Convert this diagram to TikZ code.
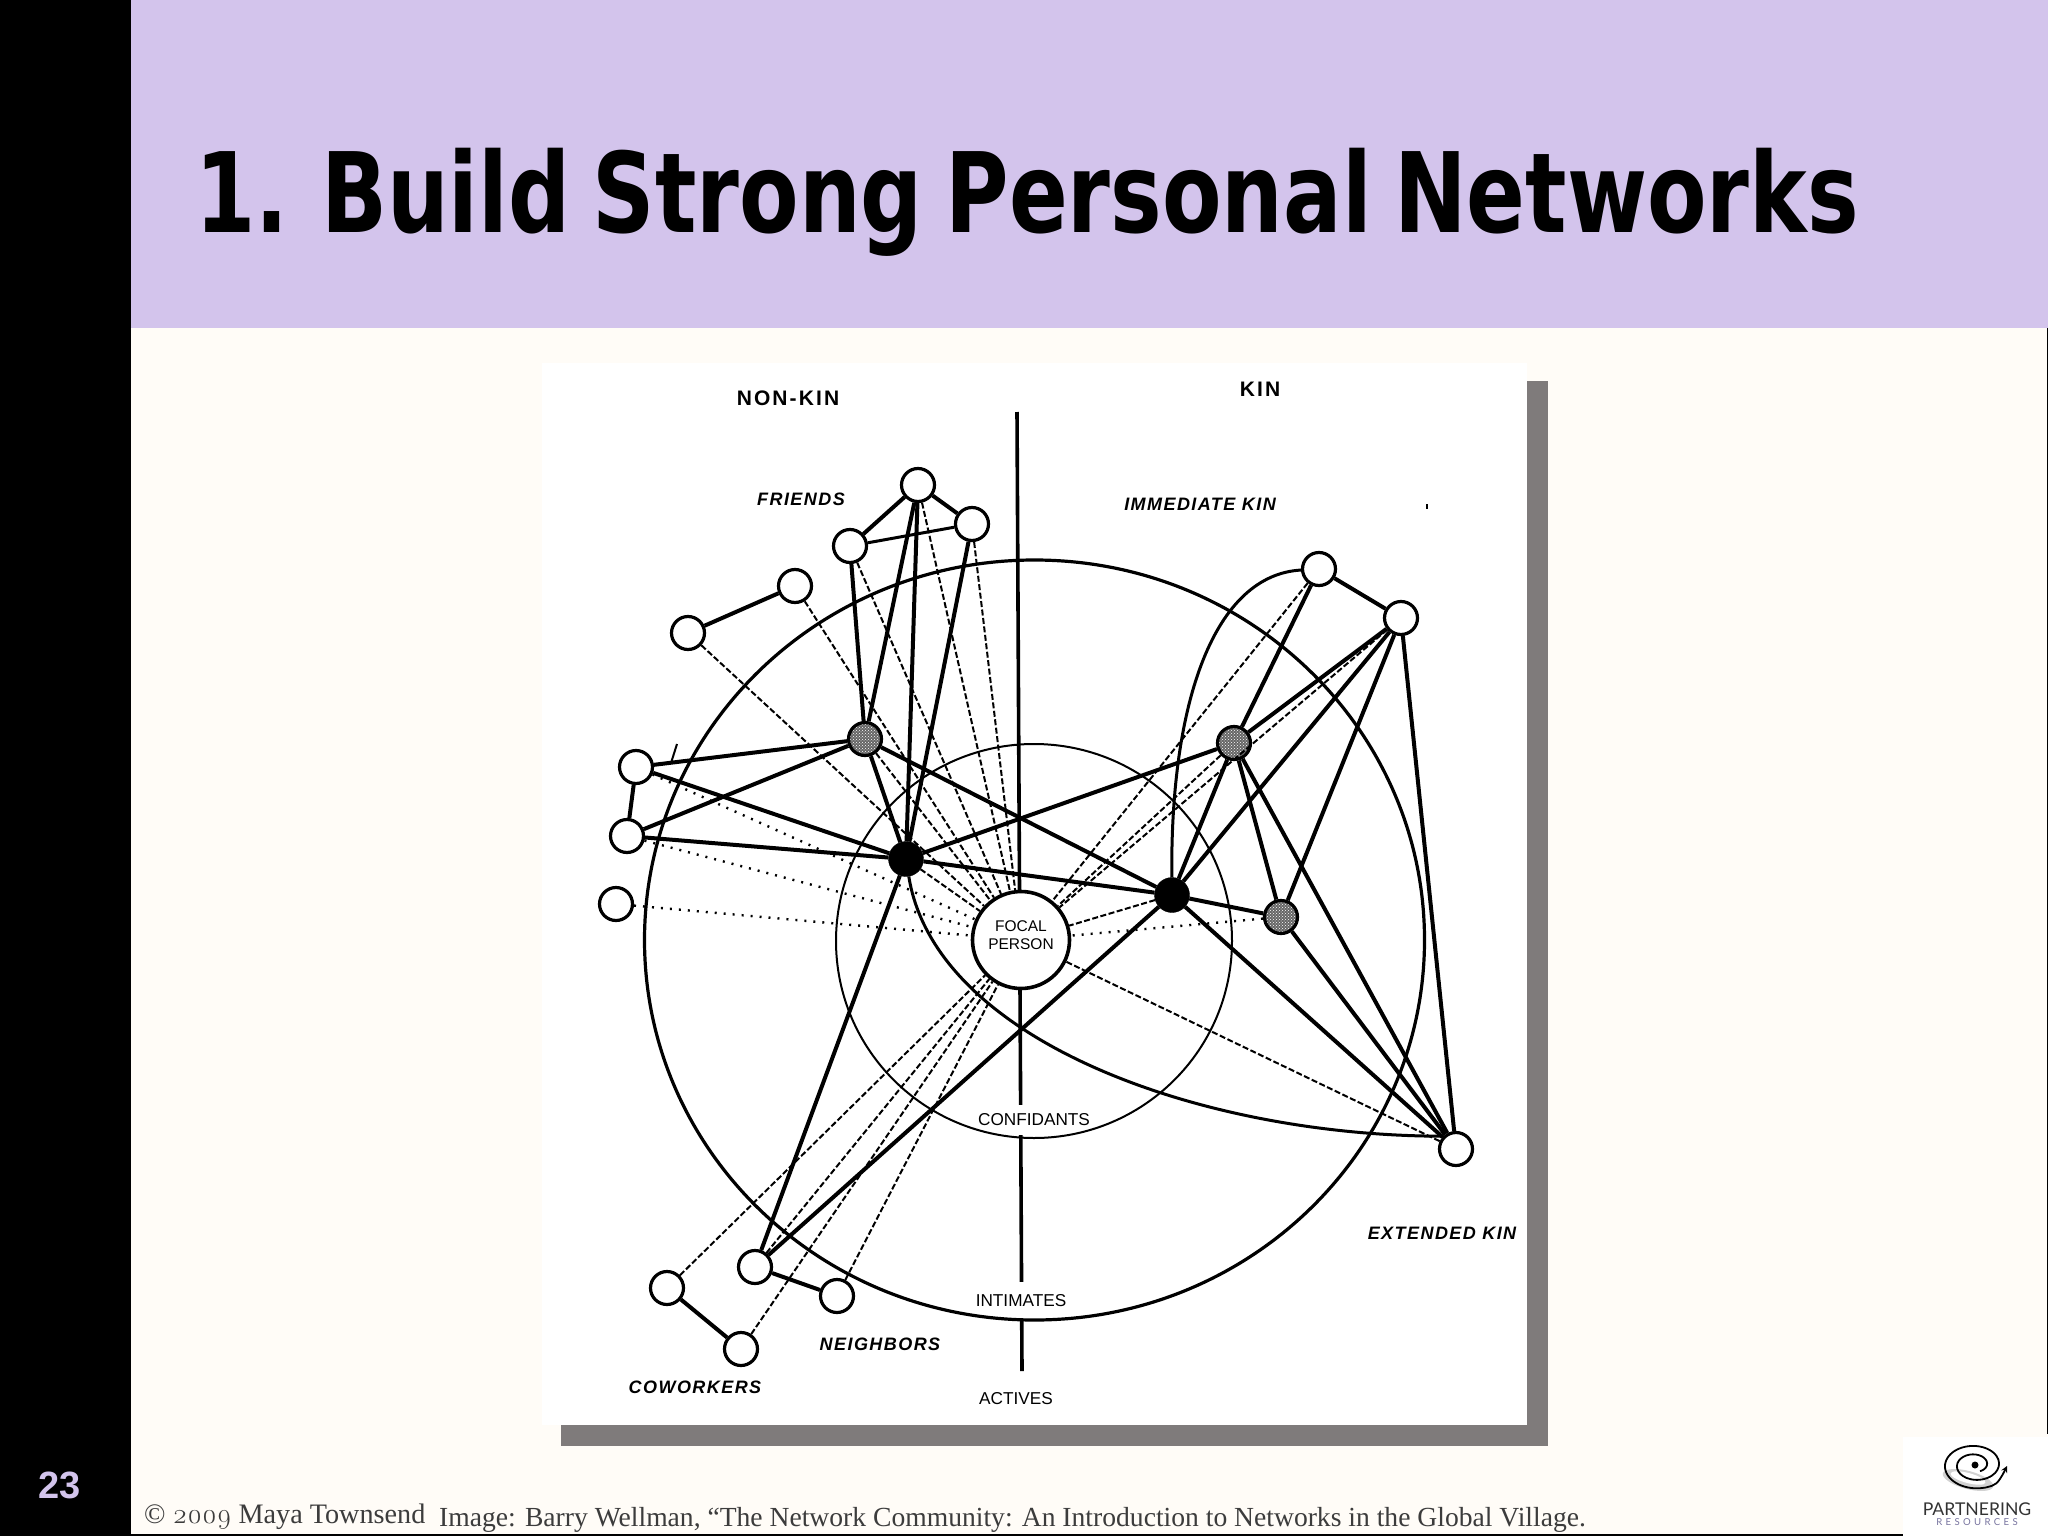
\documentclass[tikz,border=0pt]{standalone}
\usepackage{fontspec}
\usepackage{xcolor}
\usepackage{tikz}
\usetikzlibrary{shapes.geometric}
\usetikzlibrary{patterns}
\setmainfont{Liberation Serif}
\setsansfont{Liberation Sans}
\newfontfamily\titlefont[WordSpace=0.75]{DejaVu Sans Condensed}
\newfontfamily\oldnum[Numbers=OldStyle]{Latin Modern Roman}
\newfontfamily\logofont{Lato}
\definecolor{headbg}{HTML}{D3C4EC}
\definecolor{pagebg}{HTML}{FFFCF7}
\definecolor{shadow}{HTML}{7F7B7B}
\definecolor{footgray}{HTML}{3C3C3C}
\definecolor{logoblue}{HTML}{77739F}
\tikzset{
    mynode/.style = {circle, draw=black, line width=3.2pt, fill=white, inner sep=0pt, minimum size=33pt},
    mynodeh/.style = {circle, draw=black, line width=3.2pt, preaction={fill=black!60}, pattern=crosshatch dots, pattern color=white, inner sep=0pt, minimum size=33pt},
    mynodeb/.style = {circle, draw=black, fill=black, inner sep=0pt, minimum size=35pt},
    capt/.style = {font=\sffamily\bfseries\addfontfeature{LetterSpace=10}\fontsize{21}{21}\selectfont, inner sep=0pt},
    group/.style = {font=\sffamily\bfseries\itshape\addfontfeature{LetterSpace=8}\fontsize{18}{18}\selectfont, inner sep=0pt},
    ring/.style = {font=\sffamily\fontsize{17.2}{17.2}\selectfont, fill=white, inner xsep=1pt, inner ysep=0pt},
}
\begin{document}
\begin{tikzpicture}[x=1pt,y=-1pt]
\tikzset{
    edgen/.style = {-,line width=4pt},
    edgem/.style = {-,line width=3pt},
    edged/.style = {-,line width=2pt,dash pattern=on 6pt off 2.5pt},
    edgep/.style = {-,line width=2.4pt,dash pattern=on 2pt off 7pt},
}
\useasboundingbox (0,0) rectangle (2048,1536);
\fill[pagebg] (0,0) rectangle (2048,1536);
\fill[headbg] (131,0) rectangle (2048,328);
\fill[black] (0,0) rectangle (131,1536);
\fill[black] (131,1534) rectangle (1903,1536);
\fill[black] (2046.7,328) rectangle (2048,1434);
\fill[shadow] (561,381) rectangle (1548,1446);
\fill[white] (542,363) rectangle (1527,1425);
%
\node[anchor=base west,inner sep=0pt,font=\titlefont\bfseries\fontsize{111}{111}\selectfont] at (195,232) (title) {\scalebox{0.868}[1]{1. Build Strong Personal Networks}};
\node[font=\sffamily\bfseries\fontsize{38}{38}\selectfont,text=headbg,inner sep=0pt] at (60,1485) (num) {23};
\node[anchor=base west,inner sep=0pt,text=footgray,font=\fontsize{28.2}{28.2}\selectfont] at (144,1523) (copy) {© {\oldnum 2009} Maya Townsend};
\node[anchor=base west,inner sep=0pt,text=footgray,font=\fontsize{27.6}{27.6}\selectfont] at (439,1526) (src) {Image: Barry Wellman, “The Network Community: An Introduction to Networks in the Global Village.};
%
\coordinate (vt) at (1017,412);
\coordinate (vb) at (1022,1371);
\draw[line width=3.6pt] (vt) -- (vb);
%
\node[capt] at (788,398) (nonkin) {NON-KIN};
\node[capt] at (1260,389) (kin) {KIN};
\node[group] at (801,499) (friends) {FRIENDS};
\node[group] at (1200,504) (immed) {IMMEDIATE KIN};
\node[group] at (1442,1233) (extkin) {EXTENDED KIN};
\node[group] at (880,1344) (neigh) {NEIGHBORS};
\node[group] at (695,1387) (cowork) {COWORKERS};
\node[ring,minimum height=30pt] at (1034,1120) (confi) {CONFIDANTS};
\node[ring,minimum height=38pt] at (1021,1301) (intim) {INTIMATES};
\node[ring,minimum height=20pt] at (1016,1399) (activ) {ACTIVES};
%
\node[ellipse,draw=black,line width=3.2pt,minimum width=780pt,minimum height=760pt,inner sep=0pt] at (1034.5,940) (big) {};
\node[ellipse,draw=black,line width=2pt,minimum width=396pt,minimum height=394pt,inner sep=0pt] at (1034,941) (conf) {};
%
\node[mynode,minimum size=97pt,line width=3.6pt,align=center,font=\sffamily\fontsize{15.5}{18}\selectfont] at (1021,940) (p) {FOCAL\\PERSON\\[-8pt]\mbox{}};
\node[mynode] at (918,485) (fa) {};
\node[mynode] at (972,524) (fb) {};
\node[mynode] at (850,546) (fc) {};
\node[mynode] at (795,586) (fd) {};
\node[mynode] at (688,633) (fe) {};
\node[mynode] at (636,767) (la) {};
\node[mynode] at (627,836) (lb) {};
\node[mynode] at (616,904) (lc) {};
\node[mynodeh] at (865,739) (ha) {};
\node[mynodeh] at (1234,743) (hb) {};
\node[mynodeh] at (1281,917) (hc) {};
\node[mynodeb] at (906,859) (ba) {};
\node[mynodeb] at (1172,895) (bb) {};
\node[mynode] at (1319,569) (ia) {};
\node[mynode] at (1401,618) (ib) {};
\node[mynode] at (1456,1149) (x) {};
\node[mynode] at (755,1267) (na) {};
\node[mynode] at (837,1296) (nb) {};
\node[mynode] at (667,1288) (ca) {};
\node[mynode] at (741,1349) (cb) {};
%
\draw[edged] (fa) edge (p);
\draw[edged] (fb) edge (p);
\draw[edged] (fc) edge (p);
\draw[edged] (fd) edge (p);
\draw[edged] (fe) edge (p);
\draw[edged] (ha) edge (p);
\draw[edged] (ba) edge (p);
\draw[edgep] (la) edge (p);
\draw[edgep] (lb) edge (p);
\draw[edgep] (lc) edge (p);
%
\draw[edged] (ca) edge (p);
\draw[edged] (na) edge (p);
\draw[edged] (cb) edge (p);
\draw[edged] (nb) edge (p);
%
\draw[edged] (ia) edge (p);
\draw[edged] (ib) edge (p);
\draw[edged] (hb) edge (p);
\draw[edged] (bb) edge (p);
\draw[edgep] (hc) edge (p);
\draw[edged] (x) edge (p);
%
\draw[edgen] (fa) edge (fb);
\draw[edgen] (fa) edge (fc);
\draw[edgem] (fc) edge (fb);
\draw[edgen] (fd) edge (fe);
\draw[edgen] (fa) edge (ha);
\draw[edgen] (fc) edge (ha);
\draw[edgen] (fa) edge (ba);
\draw[edgen] (fb) edge (ba);
\draw[edgen] (ha) edge (ba);
\draw[edgen] (ha) edge (la);
\draw[edgen] (ha) edge (lb);
\draw[edgen] (ha) edge (bb);
\draw[edgen] (la) edge (lb);
\draw[edgen] (la) edge (ba);
\draw[edgen] (lb) edge (ba);
%
\draw[edgen] (ba) edge (bb);
\draw[edgen] (ba) edge (hb);
\draw[edgen] (ba) edge (na);
\draw[edgen] (bb) edge (na);
\draw[edgen] (na) edge (nb);
\draw[edgen] (ca) edge (cb);
%
\draw[edgen] (bb) edge (hb);
\draw[edgen] (bb) edge (ib);
\draw[edgen] (bb) edge (hc);
\draw[edgen] (bb) edge (x);
\draw[edgen] (hb) edge (ia);
\draw[edgen] (hb) edge (ib);
\draw[edgen] (hb) edge (hc);
\draw[edgen] (hb) edge (x);
\draw[edgen] (hc) edge (ib);
\draw[edgen] (hc) edge (x);
\draw[edgen] (ia) edge (ib);
\draw[edgen] (ib) edge (x);
%
\draw[edgem] (ia) .. controls (1215,575) and (1170,700) .. (bb);
\draw[edgem] (ba) .. controls (935,1040) and (1200,1136) .. (x.135);
%
\coordinate (ticka) at (677,744);
\coordinate (tickb) at (671,763);
\draw[line width=2pt] (ticka) -- (tickb);
\fill[black] (1426,504) rectangle (1428,509);
%
\fill[white] (1903,1437) rectangle (2048,1536);
\fill[gray!35,rotate around={-15:(1968,1480)}] (1968,1480) ellipse [x radius=26,y radius=9];
\fill[white,rotate around={-15:(1968,1478)}] (1968,1478) ellipse [x radius=18,y radius=5];
\draw[line width=1.8pt,-stealth] plot[smooth,domain=300:1020,samples=60] ({1975+34*(\x/1020)*cos(\x)},{1465-24*(\x/1020)*sin(\x)}) .. controls (1998,1484) and (2002,1476) .. (2007,1466);
\fill[black] (1975,1465) circle (3.5);
\node[font=\logofont\fontsize{17.6}{17.6}\selectfont,inner sep=0pt,text=black!80] at (1977,1509) (logoa) {PARTNERING};
\node[font=\logofont\addfontfeature{LetterSpace=35}\fontsize{9.6}{9.6}\selectfont,inner sep=0pt,text=logoblue] at (1977,1522) (logob) {RESOURCES};
\end{tikzpicture}
\end{document}
